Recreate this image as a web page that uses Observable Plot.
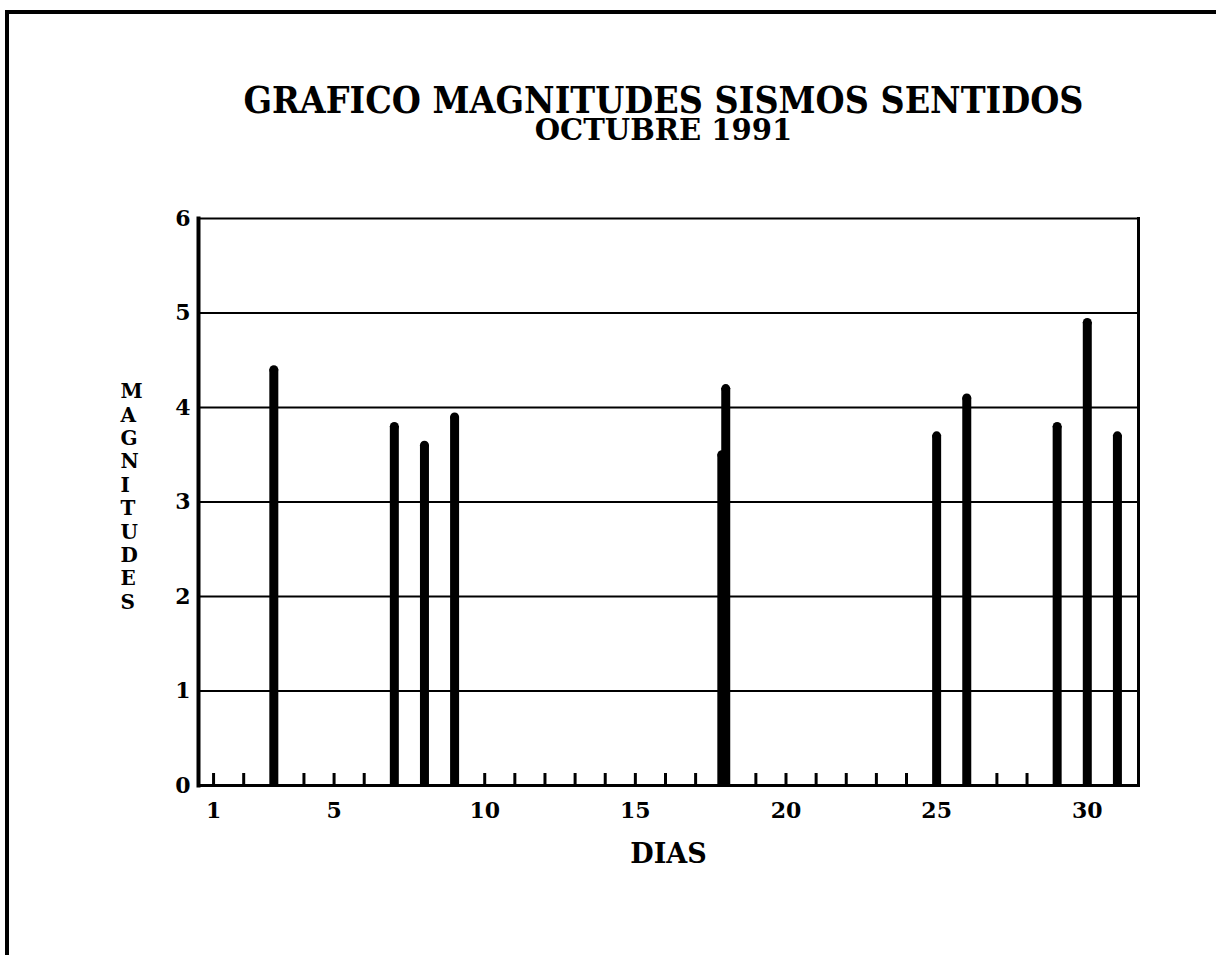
<!DOCTYPE html>
<html>
<head>
<meta charset="utf-8">
<script src="https://cdn.jsdelivr.net/npm/d3@7"></script>
<script src="https://cdn.jsdelivr.net/npm/@observablehq/plot@0.6"></script>
<style>
  html, body { margin: 0; padding: 0; background: white; }
  body { width: 1216px; height: 955px; position: relative; overflow: hidden; font-family: "DejaVu Serif", serif; font-weight: bold; color: black; }
  #border { position: absolute; left: 5px; top: 10px; right: 0; bottom: -10px; border-top: 4px solid black; border-left: 4px solid black; z-index: 2; pointer-events: none; }
  #titles { position: absolute; left: 0; top: 84px; width: 1327px; text-align: center; white-space: nowrap; }
  #t1 { display: block; font-size: 38px; line-height: 31px; transform: scaleX(0.88); }
  #t2 { display: block; font-size: 30px; line-height: 30px; transform: scaleX(0.97); }
  #chart { position: absolute; left: 0; top: 170px; z-index: 1; }
</style>
</head>
<body>
<div id="border"></div>
<div id="titles"><span id="t1">GRAFICO MAGNITUDES SISMOS SENTIDOS</span><span id="t2">OCTUBRE 1991</span></div>
<div id="chart"></div>
<script>
// Days of the month (x ticks)
const tickDays = [1,2,3,4,5,6,7,8,9,10,11,12,13,14,15,16,17,18,19,20,21,22,23,24,25,26,27,28,29,30,31];
const xTickLabels = [1,5,10,15,20,25,30];
const yTicks = [0,1,2,3,4,5,6];
// Felt earthquakes: day (fractional where two events share a day) and magnitude
const eventDays = [3, 7, 8, 9, 17.87, 18, 25, 26, 29, 30, 31];
const magnitudes = [4.4, 3.8, 3.6, 3.9, 3.5, 4.2, 3.7, 4.1, 3.8, 4.9, 3.7];
const xLabel = "DIAS";
const yLabel = "MAGNITUDES";

const events = eventDays.map((d, i) => ({day: d, mag: magnitudes[i]}));

const H = 740, MT = 48, MB = 125;
const chart = Plot.plot({
  width: 1216,
  height: H,
  marginLeft: 198,
  marginRight: 78,
  marginTop: MT,
  marginBottom: MB,
  style: {fontFamily: "DejaVu Serif", fontWeight: "bold", fontSize: "22px", color: "black", background: "transparent", overflow: "visible"},
  x: {domain: [0.5, 31.7]},
  y: {domain: [0, 6]},
  marks: [
    Plot.ruleY(yTicks.filter(v => v > 0 && v < 6), {stroke: "black", strokeWidth: 2}),
    Plot.ruleX(tickDays, {x: d => d, stroke: "black", strokeWidth: 3, insetTop: H - MT - MB - 12}),
    Plot.ruleX(events, {x: "day", y1: d => 0, y2: "mag", stroke: "black", strokeWidth: 9}),
    Plot.dot(events, {x: "day", y: "mag", r: 4.5, fill: "black", stroke: null}),
    Plot.frame({stroke: "black", strokeWidth: 2}),
    Plot.frame({anchor: "left", stroke: "black", strokeWidth: 4}),
    Plot.frame({anchor: "bottom", stroke: "black", strokeWidth: 3}),
    Plot.frame({anchor: "right", stroke: "black", strokeWidth: 3}),
    Plot.axisY({ticks: yTicks, tickSize: 0, tickPadding: 8, tickFormat: d3.format("d"), label: null, fontSize: 22, fill: "black"}),
    Plot.axisX({ticks: xTickLabels, tickSize: 0, tickPadding: 17, tickFormat: d3.format("d"), label: null, fontSize: 22, fill: "black"}),
    Plot.text([yLabel], {frameAnchor: "left", text: d => d.split("").join("\n"), dx: -78, dy: -6, lineHeight: 1.17, fontSize: 20, fill: "black"}),
    Plot.text([xLabel], {frameAnchor: "bottom", text: d => d, dy: 58, lineAnchor: "top", fontSize: 27, fill: "black"})
  ]
});
document.getElementById("chart").appendChild(chart);
</script>
</body>
</html>
